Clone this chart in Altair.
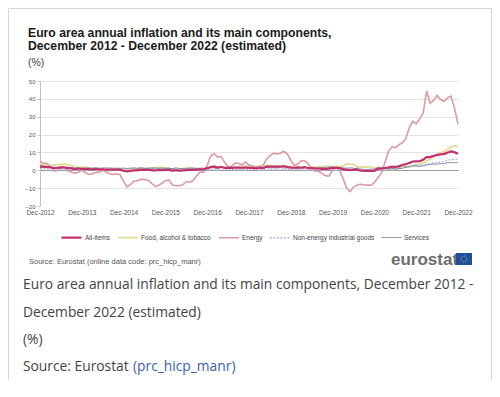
import altair as alt
import pandas as pd

# ---- data (monthly annual rates, Dec-2012 .. Dec-2022) ----
series_names = ["All-items", "Food, alcohol & tobacco", "Energy",
                "Non-energy industrial goods", "Services"]

all_items = [2.2,
 2.0,1.8,1.7,1.2,1.4,1.6,1.6,1.3,1.1,0.7,0.9,0.8,
 0.8,0.7,0.5,0.7,0.5,0.5,0.4,0.4,0.3,0.4,0.3,-0.2,
 -0.6,-0.3,-0.1,0.0,0.3,0.2,0.2,0.1,-0.1,0.1,0.1,0.2,
 0.3,-0.2,0.0,-0.2,-0.1,0.1,0.2,0.2,0.4,0.5,0.6,1.1,
 1.8,2.0,1.5,1.9,1.4,1.3,1.3,1.5,1.5,1.4,1.5,1.4,
 1.3,1.1,1.4,1.2,2.0,2.0,2.1,2.0,2.1,2.3,1.9,1.5,
 1.4,1.5,1.4,1.7,1.2,1.3,1.0,1.0,0.8,0.7,1.0,1.3,
 1.4,1.2,0.7,0.3,0.1,0.3,0.4,-0.2,-0.3,-0.3,-0.3,-0.3,
 0.9,0.9,1.3,1.6,2.0,1.9,2.2,3.0,3.4,4.1,4.9,5.0,
 5.1,5.9,7.4,7.4,8.1,8.6,8.9,9.1,9.9,10.6,10.1,9.2]

food = [3.2,
 3.2,2.7,2.7,2.9,3.2,3.2,3.5,3.2,2.6,2.0,1.6,1.8,
 1.7,1.5,1.0,0.7,0.1,0.2,-0.3,-0.3,0.3,0.5,0.5,0.0,
 -0.1,0.5,1.0,1.1,1.2,0.9,0.9,1.3,1.4,1.6,1.5,1.2,
 1.0,0.6,0.8,0.8,0.9,0.9,1.4,1.3,0.7,0.4,0.7,1.2,
 1.7,2.5,1.8,1.5,1.5,1.3,1.4,1.4,1.9,2.2,2.3,2.2,
 2.1,1.2,2.3,2.6,2.6,2.7,2.5,2.3,2.4,2.2,1.9,1.7,
 1.6,2.3,1.6,1.9,1.5,1.6,1.8,1.8,2.1,2.2,1.9,2.0,
 2.2,2.1,2.4,3.6,3.4,3.2,2.0,1.7,1.8,2.0,1.9,1.3,
 1.5,1.3,1.1,0.7,0.6,0.5,1.6,2.0,1.9,1.9,2.2,3.2,
 3.5,4.2,5.0,6.3,7.5,8.9,9.8,10.6,11.8,13.1,13.6,13.8]

energy = [5.2,
 3.9,3.9,1.7,-0.4,-0.2,1.6,1.6,-0.3,-0.9,-1.7,-1.1,0.0,
 -1.2,-2.3,-2.0,-1.2,-1.1,0.1,-1.0,-2.0,-2.3,-2.0,-2.6,-6.3,
 -9.3,-7.9,-6.0,-5.8,-5.1,-5.1,-5.6,-7.2,-8.9,-8.5,-7.3,-5.8,
 -5.4,-8.1,-8.7,-8.6,-8.1,-6.4,-6.7,-5.6,-3.0,-0.9,-1.1,2.6,
 8.1,9.3,7.4,7.6,4.5,1.9,2.2,4.0,3.9,3.0,4.7,2.9,
 2.2,2.1,2.0,2.6,6.1,8.0,9.5,9.2,9.5,10.7,9.1,5.5,
 2.7,3.6,5.3,5.3,3.8,0.2,-0.5,-0.6,-1.8,-3.1,-3.2,0.2,
 1.9,-0.3,-4.5,-10.0,-11.9,-9.3,-8.4,-7.8,-8.2,-8.3,-8.3,-6.9,
 -4.2,-1.7,4.3,10.4,13.1,12.6,14.3,15.4,17.6,23.7,27.5,26.0,
 28.8,32.0,44.4,37.5,39.1,42.0,39.6,38.6,40.7,41.5,34.9,25.7]

neig = [1.0,
 0.8,0.8,1.0,0.8,0.8,0.7,0.4,0.4,0.4,0.3,0.2,0.3,
 0.2,0.4,0.2,0.1,0.0,-0.1,-0.2,0.3,0.2,-0.1,-0.1,-0.1,
 -0.1,-0.1,-0.1,0.1,0.2,0.3,0.4,0.4,0.3,0.6,0.5,0.5,
 0.7,0.7,0.5,0.5,0.5,0.5,0.4,0.3,0.3,0.3,0.3,0.3,
 0.5,0.2,0.2,0.3,0.4,0.4,0.5,0.5,0.5,0.4,0.4,0.5,
 0.7,0.6,0.2,0.3,0.2,0.4,0.3,0.2,0.4,0.3,0.3,0.4,
 0.4,0.5,0.2,0.2,0.3,0.2,0.4,0.4,0.3,0.3,0.4,0.5,
 0.3,0.5,0.5,0.4,0.2,0.2,1.6,-0.1,-0.3,-0.1,-0.3,-0.5,
 1.5,1.0,0.3,0.4,0.7,1.2,0.7,2.6,2.1,2.0,2.4,2.9,
 2.1,3.1,3.4,3.8,4.2,4.3,4.5,5.1,5.5,6.1,6.1,6.4]

services = [1.8,
 1.6,1.5,1.8,1.1,1.5,1.4,1.4,1.4,1.5,1.2,1.4,1.0,
 1.2,1.3,1.1,1.6,1.1,1.3,1.3,1.3,1.1,1.2,1.1,1.2,
 1.0,1.2,1.3,1.0,1.4,1.1,1.2,1.2,1.3,1.1,1.2,1.1,
 1.2,0.9,1.4,1.0,1.0,1.1,1.2,1.1,1.1,1.2,1.1,1.3,
 1.6,1.3,1.0,1.8,1.3,1.6,1.6,1.6,1.5,1.2,1.5,1.2,
 1.3,1.2,1.5,1.0,1.6,1.3,1.4,1.3,1.5,1.3,1.3,1.3,
 1.2,1.4,1.3,1.9,1.0,1.6,1.2,1.3,1.5,1.5,1.9,1.8,
 1.5,1.6,1.3,1.2,1.3,1.2,0.9,0.7,0.5,0.4,0.6,0.7,
 1.4,1.3,1.3,0.9,1.1,0.7,0.9,1.1,1.7,2.1,2.7,2.4,
 2.3,2.5,3.0,3.3,3.5,3.4,3.7,3.8,4.3,4.3,4.2,4.4]

tick_years = list(range(2012, 2023))
y_ticks = [-20, -10, 0, 10, 20, 30, 40, 50]

# ---- long table (All-items last so it is drawn on top) ----
draw_order = [("Food, alcohol & tobacco", food), ("Energy", energy),
              ("Non-energy industrial goods", neig), ("Services", services),
              ("All-items", all_items)]
rows = []
for name, vals in draw_order:
    for i, v in enumerate(vals):
        rows.append({"m": i, "v": v, "series": name})
df = pd.DataFrame(rows)

colors = ["#c2306e", "#e2de9a", "#d99ca2", "#b3b6e6", "#77819f"]
dashes = [[1, 0], [1, 0], [1, 0], [2, 1.5], [1, 0]]
widths = [2.2, 1, 1, 1, 1]

FONT = "Liberation Sans"
W, H = 418, 125

legend = alt.Legend(orient="none", legendX=20, legendY=145, direction="horizontal",
                    title=None, symbolType="stroke", symbolSize=400,
                    labelFontSize=6.5, labelFont=FONT, labelColor="#444",
                    columnPadding=4, labelOffset=2, labelLimit=300)

lines = alt.Chart(df).mark_line(interpolate="linear").encode(
    x=alt.X("m:Q", scale=alt.Scale(domain=[0, 120], nice=False, zero=False),
            axis=alt.Axis(values=[12 * (y - 2012) for y in tick_years],
                          labelExpr="'Dec-' + (2012 + datum.value / 12)",
                          title=None, grid=False, domain=False, ticks=False,
                          labelFontSize=6.5, labelFont=FONT, labelColor="#555",
                          labelPadding=3, labelFlush=False)),
    y=alt.Y("v:Q", scale=alt.Scale(domain=[-20, 50], nice=False),
            axis=alt.Axis(values=y_ticks, title=None,
                          labelFontSize=6, labelFont=FONT, labelColor="#555",
                          labelPadding=2, tickSize=3, tickColor="#c8c8c8",
                          domainColor="#c0c0c0",
                          gridColor=alt.condition("datum.value === 0",
                                                  alt.value("#9c9c9c"), alt.value("#e4e4e4")),
                          gridOpacity=alt.condition("datum.value === -20",
                                                    alt.value(0), alt.value(1)))),
    color=alt.Color("series:N", scale=alt.Scale(domain=series_names, range=colors), legend=legend),
    strokeDash=alt.StrokeDash("series:N", scale=alt.Scale(domain=series_names, range=dashes), legend=legend),
    strokeWidth=alt.StrokeWidth("series:N", scale=alt.Scale(domain=series_names, range=widths), legend=legend),
    detail="series:N",
)

one = alt.Data(values=[{"k": 1}])


def txt(s, x, y, size, color, weight="normal", font=FONT):
    return alt.Chart(one).mark_text(text=s, align="left", baseline="alphabetic",
                                    fontSize=size, font=font, fontWeight=weight,
                                    color=color).encode(x=alt.value(x), y=alt.value(y))


texts = [
    txt("Euro area annual inflation and its main components,", -12, -44, 12.2, "#1a1a1a", "bold"),
    txt("December 2012 - December 2022 (estimated)", -12, -31, 12.2, "#1a1a1a", "bold"),
    txt("(%)", -12, -15, 10.5, "#444"),
    txt("Source: Eurostat (online data code: prc_hicp_manr)", -11, 183, 7.5, "#555"),
    txt("eurostat", 351, 184, 17, "#6e6e6e", "bold"),
    txt("Euro area annual inflation and its main components, December 2012 -", -17, 208, 13.8, "#444", font="Open Sans"),
    txt("December 2022 (estimated)", -17, 236, 13.8, "#444", font="Open Sans"),
    txt("(%)", -17, 263, 13.8, "#444", font="Open Sans"),
    txt("Source: Eurostat", -17, 290, 13.8, "#444", font="Open Sans"),
    txt("(prc_hicp_manr)", 93, 290, 13.8, "#3a62a8", font="Open Sans"),
]

flag = alt.Chart(one).mark_rect(color="#1d4f9f").encode(
    x=alt.value(416), x2=alt.value(432), y=alt.value(172), y2=alt.value(184))
stars = alt.Chart(one).mark_point(shape="circle", size=36, filled=False, stroke="#f2d024",
                                  strokeWidth=1, strokeDash=[1, 1.3], opacity=1).encode(
    x=alt.value(424), y=alt.value(178))

border_c = "#d6d6d6"
b_left = alt.Chart(one).mark_rule(color=border_c).encode(
    x=alt.value(-31.5), y=alt.value(-72.5), y2=alt.value(H + 174))
b_top = alt.Chart(one).mark_rule(color=border_c).encode(
    x=alt.value(-31.5), x2=alt.value(451.5), y=alt.value(-72.5))
b_right = alt.Chart(one).mark_rule(color=border_c).encode(
    x=alt.value(451.5), y=alt.value(-72.5), y2=alt.value(H + 174))

chart = alt.layer(lines, *texts, flag, stars, b_left, b_top, b_right).properties(
    width=W, height=H,
    padding={"left": 32, "top": 73, "right": 34, "bottom": 174},
    autosize=alt.AutoSizeParams(type="none"),
    background="white",
).configure_view(stroke=None)

chart.save("out.html", embed_options={"renderer": "svg", "actions": False})
